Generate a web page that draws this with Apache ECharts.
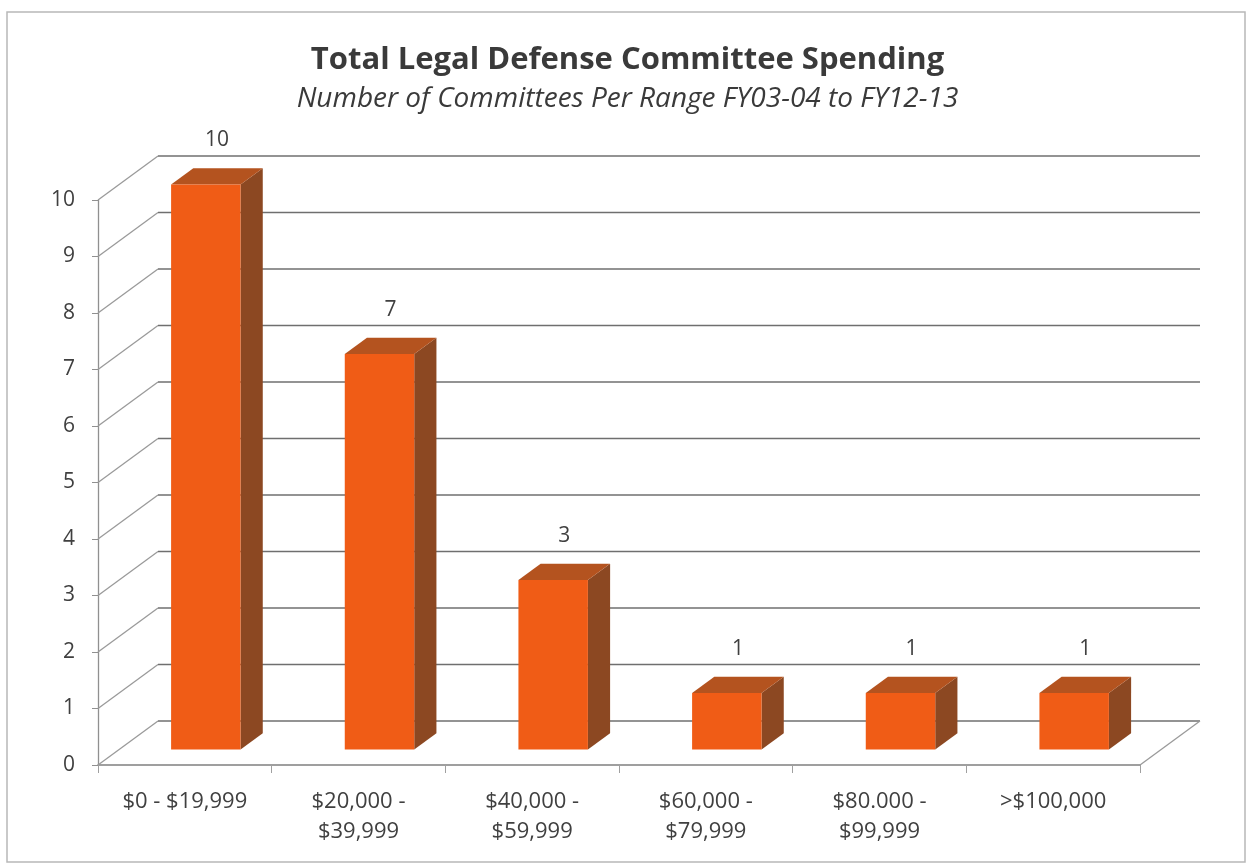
<!DOCTYPE html>
<html>
<head>
<meta charset="utf-8">
<script src="https://cdn.jsdelivr.net/npm/echarts@6/dist/echarts.min.js"></script>
<style>
  html, body { margin: 0; padding: 0; background: #ffffff; }
  #chart { width: 1255px; height: 865px; }
</style>
</head>
<body>
<div id="chart"></div>
<script>
// Spending ranges and number of committees in each
const categories = [
  '$0 - $19,999',
  '$20,000 -\n$39,999',
  '$40,000 -\n$59,999',
  '$60,000 -\n$79,999',
  '$80.000 -\n$99,999',
  '>$100,000'
];
const committeeCounts = [10, 7, 3, 1, 1, 1];
const yTicks = [0, 1, 2, 3, 4, 5, 6, 7, 8, 9, 10];

// Depth vector of the floor / walls (pixels), and where the bars sit inside it
const DEPTH = [60, -44];
const BAR_FRONT = 0.35;
const BAR_BACK = 0.72;
const BAR_WIDTH_RATIO = 0.4;

const FACE_FRONT = '#f05c16';
const FACE_TOP = '#b4531f';
const FACE_SIDE = '#8c4822';
const GRID_COLOR = '#6f6f6f';
const WALL_EDGE = '#9a9a9a';
const TEXT_COLOR = '#404040';
const FONT = '"Open Sans", Lato, sans-serif';

const chart = echarts.init(document.getElementById('chart'));

// Back wall gridlines, left wall diagonals and floor edges
function renderWall(params, api) {
  const v = api.value(0);
  const cs = params.coordSys;
  const left = cs.x;
  const right = cs.x + cs.width;
  const y = api.coord([0, v])[1];
  const children = [
    {
      type: 'line',
      shape: { x1: left, y1: y, x2: left + DEPTH[0], y2: y + DEPTH[1] },
      style: { stroke: WALL_EDGE, lineWidth: 1.3 }
    },
    {
      type: 'line',
      shape: { x1: left + DEPTH[0], y1: y + DEPTH[1], x2: right + DEPTH[0], y2: y + DEPTH[1] },
      style: { stroke: GRID_COLOR, lineWidth: 1.5 }
    }
  ];
  if (v === 0) {
    children.push({
      type: 'line',
      shape: { x1: right, y1: y, x2: right + DEPTH[0], y2: y + DEPTH[1] },
      style: { stroke: WALL_EDGE, lineWidth: 1.3 }
    });
  }
  return { type: 'group', children: children };
}

// 3D bar: front, top and right side faces plus its value label
function renderBar(params, api) {
  const idx = api.value(0);
  const val = api.value(1);
  const base = api.coord([idx, 0]);
  const top = api.coord([idx, val]);
  const band = api.size([1, 0])[0];
  const bw = band * BAR_WIDTH_RATIO;
  const sx = DEPTH[0] * BAR_FRONT;
  const sy = DEPTH[1] * BAR_FRONT;
  const dx = DEPTH[0] * (BAR_BACK - BAR_FRONT);
  const dy = DEPTH[1] * (BAR_BACK - BAR_FRONT);
  const x0 = base[0] - bw / 2 + sx;
  const x1 = x0 + bw;
  const yb = base[1] + sy;
  const yt = top[1] + sy;
  return {
    type: 'group',
    children: [
      {
        type: 'polygon',
        shape: { points: [[x1, yb], [x1 + dx, yb + dy], [x1 + dx, yt + dy], [x1, yt]] },
        style: { fill: FACE_SIDE }
      },
      {
        type: 'polygon',
        shape: { points: [[x0, yt], [x0 + dx, yt + dy], [x1 + dx, yt + dy], [x1, yt]] },
        style: { fill: FACE_TOP }
      },
      {
        type: 'rect',
        shape: { x: x0, y: yt, width: bw, height: yb - yt },
        style: { fill: FACE_FRONT }
      },
      {
        type: 'text',
        x: (x0 + x1) / 2 + dx / 2,
        y: yt + dy / 2 - 36,
        style: {
          text: String(val),
          fill: TEXT_COLOR,
          font: '21px ' + FONT,
          align: 'center',
          verticalAlign: 'middle'
        }
      }
    ]
  };
}

chart.setOption({
  backgroundColor: '#ffffff',
  animation: false,
  title: [
    {
      text: 'Total Legal Defense Committee Spending',
      left: 'center',
      top: 40,
      textStyle: { fontFamily: FONT, fontSize: 31, fontWeight: 'bold', color: '#3a3a3a' }
    },
    {
      text: 'Number of Committees Per Range FY03-04 to FY12-13',
      left: 'center',
      top: 80,
      textStyle: { fontFamily: FONT, fontSize: 28, fontStyle: 'italic', fontWeight: 'normal', color: '#3a3a3a' }
    }
  ],
  graphic: [
    {
      type: 'rect',
      shape: { x: 7, y: 12, width: 1238, height: 850 },
      style: { fill: 'none', stroke: '#b8b8b8', lineWidth: 1.5 },
      silent: true
    }
  ],
  grid: { left: 98, right: 115, top: 200, bottom: 100 },
  xAxis: {
    type: 'category',
    data: categories,
    axisLine: { lineStyle: { color: '#808080', width: 1.5 } },
    axisTick: { show: true, length: 8, lineStyle: { color: '#a0a0a0' } },
    axisLabel: {
      color: TEXT_COLOR,
      fontFamily: FONT,
      fontSize: 22,
      lineHeight: 30,
      margin: 22,
      interval: 0
    }
  },
  yAxis: {
    type: 'value',
    min: 0,
    max: 10,
    interval: 1,
    axisLine: { show: true, lineStyle: { color: '#909090', width: 1.3 } },
    axisTick: { show: true, length: 6, lineStyle: { color: '#909090' } },
    splitLine: { show: false },
    axisLabel: { color: TEXT_COLOR, fontFamily: FONT, fontSize: 21, margin: 23 }
  },
  series: [
    {
      type: 'custom',
      name: 'wall',
      renderItem: renderWall,
      data: yTicks.map(function (v) { return [v]; }),
      encode: { y: 0 },
      z: 1,
      silent: true
    },
    {
      type: 'custom',
      name: 'Committees',
      renderItem: renderBar,
      data: committeeCounts.map(function (v, i) { return [i, v]; }),
      encode: { x: 0, y: 1 },
      z: 5
    }
  ]
});
</script>
</body>
</html>
